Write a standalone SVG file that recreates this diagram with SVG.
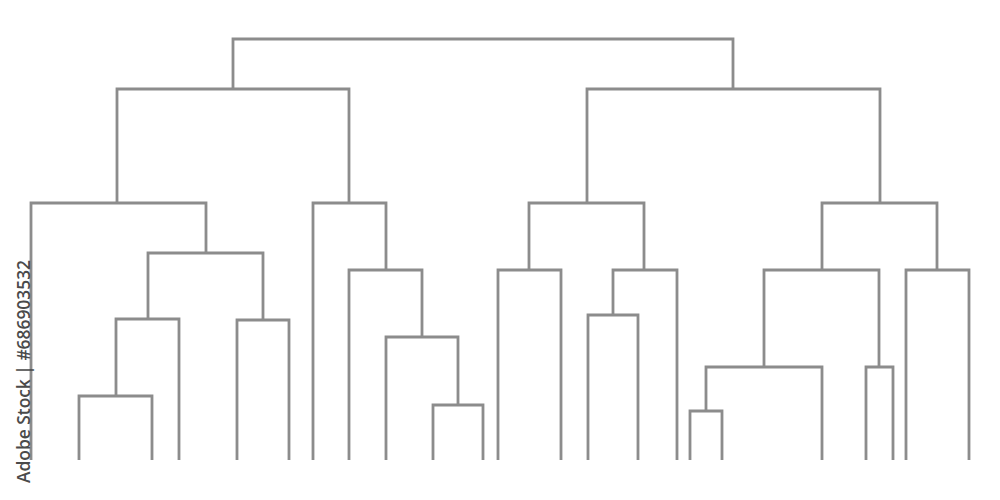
<svg xmlns="http://www.w3.org/2000/svg" width="1000" height="500" viewBox="0 0 1000 500">
<style>
.l{fill:none;stroke:#8c8c8c;stroke-width:2.8;stroke-linejoin:miter;stroke-linecap:butt}
.t{font-family:"Open Sans","Liberation Sans",sans-serif;font-size:18px;font-weight:600;fill:#4a4a4a}
</style>
<rect width="1000" height="500" fill="#fff"/>
<g id="connectors">
<path id="A" class="l" d="M79,460V396H152V460"/>
<path id="B" class="l" d="M116,396V319H179V460"/>
<path id="C" class="l" d="M237,460V320H289V460"/>
<path id="D" class="l" d="M148,319V253H263V320"/>
<path id="E" class="l" d="M31,460V203H206V253"/>
<path id="F" class="l" d="M433,460V405H483V460"/>
<path id="G" class="l" d="M386,460V337H458V405"/>
<path id="H" class="l" d="M349,460V270H422V337"/>
<path id="I" class="l" d="M313,460V203H386V270"/>
<path id="J" class="l" d="M117,203V89H349V203"/>
<path id="K" class="l" d="M498,460V270H561V460"/>
<path id="L" class="l" d="M588,460V315H638V460"/>
<path id="M" class="l" d="M613,315V270H677V460"/>
<path id="N" class="l" d="M529,270V203H644V270"/>
<path id="O" class="l" d="M690,460V411H722V460"/>
<path id="P" class="l" d="M706,411V367H822V460"/>
<path id="Q" class="l" d="M866,460V367H893V460"/>
<path id="R" class="l" d="M764,367V270H879V367"/>
<path id="S" class="l" d="M906,460V270H969V460"/>
<path id="T" class="l" d="M822,270V203H937V270"/>
<path id="U" class="l" d="M587,203V89H880V203"/>
<path id="V" class="l" d="M233,89V39H733V89"/>
</g>
<g id="label">
<text class="t" transform="translate(30,483) rotate(-90)" textLength="223" lengthAdjust="spacingAndGlyphs">Adobe Stock | #686903532</text>
</g>
</svg>
